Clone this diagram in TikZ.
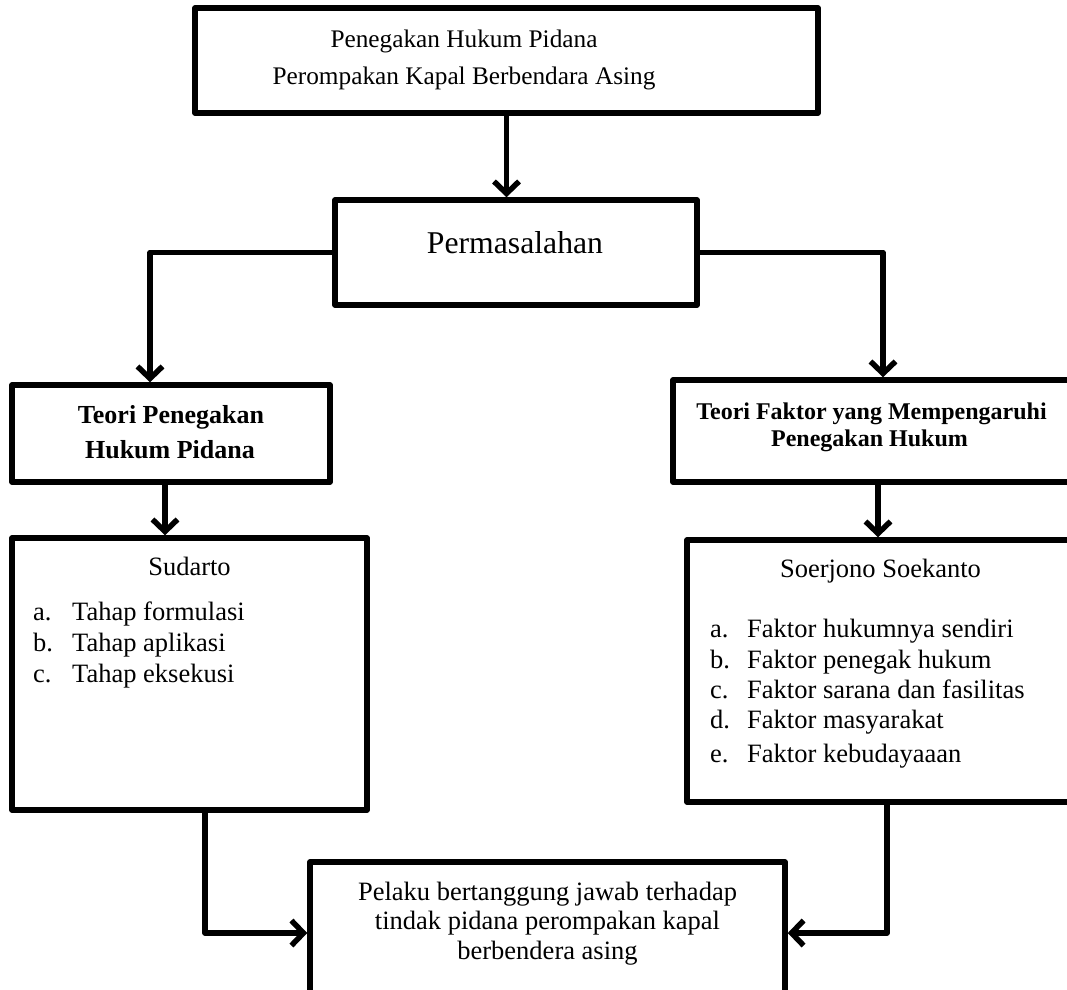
\documentclass[tikz,border=0pt]{standalone}
\usepackage{fontspec}
\setmainfont{Liberation Serif}
\usetikzlibrary{arrows.meta}
\begin{document}
\begin{tikzpicture}[x=1pt,y=-1pt,
  box/.style={draw, line width=5.5pt, rectangle, line join=round, fill=white},
  arr/.style={line width=5.5pt, line join=round, -{Straight Barb[length=12pt,width=25pt,line join=miter]}},
  tx/.style={anchor=base, inner sep=0pt},
  txl/.style={anchor=base west, inner sep=0pt},
  fA/.style={font=\fontsize{25.3}{30}\selectfont},
  fP/.style={font=\fontsize{31.7}{36}\selectfont},
  fL/.style={font=\fontsize{26.5}{30}\selectfont},
  fBL/.style={font=\fontsize{26}{30}\selectfont\bfseries},
  fBR/.style={font=\fontsize{24}{28}\selectfont\bfseries}
]
\clip (0,0) rectangle (1067,989);
\fill[white] (0,0) rectangle (1067,989);

% boxes
\node[box, minimum width=623pt, minimum height=105pt] (top) at (506.5,60.5) {};
\node[box, minimum width=362pt, minimum height=105pt] (perm) at (516,252.5) {};
\node[box, minimum width=318pt, minimum height=97pt] (tl) at (171,433.5) {};
\node[box, minimum width=398pt, minimum height=102pt] (tr) at (872,431) {};
\node[box, minimum width=355pt, minimum height=272pt] (sud) at (189.5,674) {};
\node[box, minimum width=384pt, minimum height=262pt] (soe) at (879,671) {};
\node[box, minimum width=475pt, minimum height=142pt] (pel) at (547.5,933) {};

% texts
\node[tx, fA] (top1) at (464,47) {Penegakan Hukum Pidana};
\node[tx, fA] (top2) at (464,84) {Perompakan Kapal Berbendara Asing};
\node[tx, fP] (permt) at (515,253) {Permasalahan};
\node[tx, fBL] (tl1) at (171,423) {Teori Penegakan};
\node[tx, fBL] (tl2) at (170,458) {Hukum Pidana};
\node[tx, fBR] (tr1) at (871.5,419) {Teori Faktor yang Mempengaruhi};
\node[tx, fBR] (tr2) at (869.5,446) {Penegakan Hukum};

\node[tx, fL] (sudt) at (189.5,575) {Sudarto};
\node[txl, fL] (sa) at (33,620) {a.};
\node[txl, fL] (sat) at (72,620) {Tahap formulasi};
\node[txl, fL] (sb) at (33,651) {b.};
\node[txl, fL] (sbt) at (72,651) {Tahap aplikasi};
\node[txl, fL] (sc) at (33,682) {c.};
\node[txl, fL] (sct) at (72,682) {Tahap eksekusi};

\node[tx, fL] (soet) at (880.5,577) {Soerjono Soekanto};
\node[txl, fL] (ka) at (710,637) {a.};
\node[txl, fL] (kat) at (747,637) {Faktor hukumnya sendiri};
\node[txl, fL] (kb) at (710,668) {b.};
\node[txl, fL] (kbt) at (747,668) {Faktor penegak hukum};
\node[txl, fL] (kc) at (710,698) {c.};
\node[txl, fL] (kct) at (747,698) {Faktor sarana dan fasilitas};
\node[txl, fL] (kd) at (710,728) {d.};
\node[txl, fL] (kdt) at (747,728) {Faktor masyarakat};
\node[txl, fL] (ke) at (710,762) {e.};
\node[txl, fL] (ket) at (747,762) {Faktor kebudayaaan};

\node[tx, fL] (pel1) at (547.5,900) {Pelaku bertanggung jawab terhadap};
\node[tx, fL] (pel2) at (547.5,929) {tindak pidana perompakan kapal};
\node[tx, fL] (pel3) at (547.5,959) {berbendera asing};

% connectors
\draw[arr] (top.south) -- (top.south |- perm.north);
\draw[arr] (perm.west) -| ([xshift=-21pt]tl.north);
\draw[arr] (perm.east) -| ([xshift=11pt]tr.north);
\draw[arr] ([xshift=-6pt]tl.south) -- ([xshift=-6pt]tl.south |- sud.north);
\draw[arr] ([xshift=6pt]tr.south) -- ([xshift=6pt]tr.south |- soe.north);
\draw[arr] ([xshift=15.5pt]sud.south) |- (pel.west);
\draw[arr] ([xshift=8pt]soe.south) |- (pel.east);
\end{tikzpicture}
\end{document}
